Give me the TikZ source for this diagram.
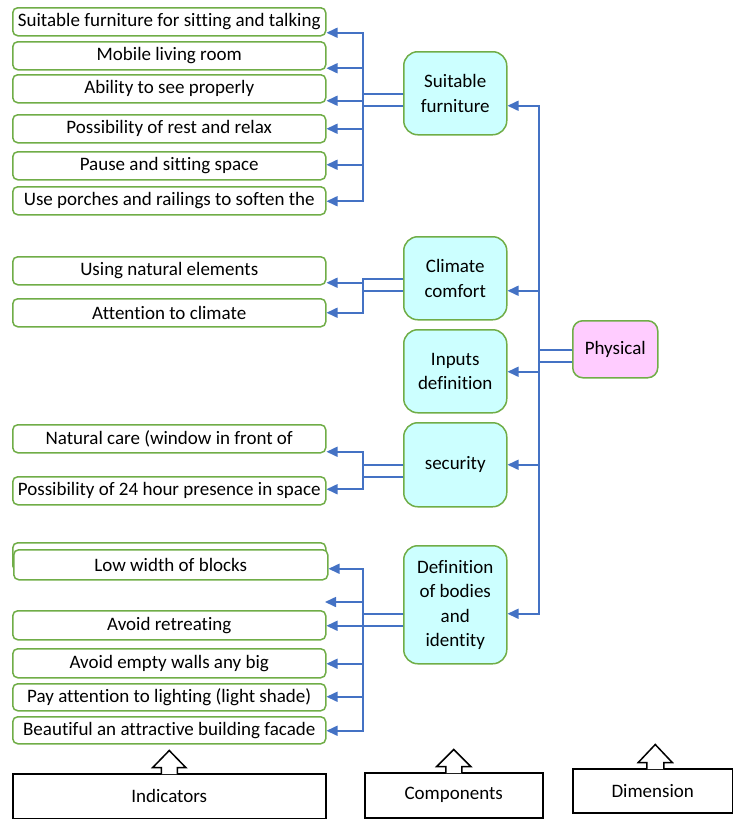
\documentclass[tikz,border=0pt]{standalone}
\usepackage{fontspec}
\setmainfont{Carlito}[Ligatures=NoCommon]
\usetikzlibrary{arrows.meta}
\definecolor{grn}{HTML}{70AD47}
\definecolor{blu}{HTML}{4472C4}
\definecolor{cyanf}{HTML}{CCFFFF}
\definecolor{pinkf}{HTML}{FFCCFF}
\newcommand\fs{\fontsize{19}{24.5}\selectfont}

\begin{document}
\begin{tikzpicture}[x=1pt,y=-1pt,
  ind/.style={draw=grn, line width=1.5pt, rounded corners=5pt, fill=white,
    minimum width=313pt, minimum height=28pt, anchor=north west,
    inner sep=0pt, font=\fs},
  comp/.style={draw=grn, line width=1.5pt, rounded corners=14pt, fill=cyanf,
    minimum width=103pt, anchor=north west, align=center, inner sep=0pt,
    font=\fs},
  dimbox/.style={comp, fill=pinkf, rounded corners=10pt, minimum width=85pt,
    minimum height=57pt},
  lblbox/.style={draw=black, line width=1.5pt, anchor=north west,
    inner sep=0pt, font=\fs},
  conn/.style={draw=blu, line width=1.6pt},
  arr/.style={conn, -{Triangle[length=11pt,width=10pt]}},
  blk/.style={draw=black, line width=1.5pt, line join=miter}
]
\useasboundingbox (0,0) rectangle (733,819);

% ---------- indicators ----------
\node[ind] (c1) at (12,7)   {Suitable furniture for sitting and talking};
\node[ind] (c2) at (12,41)  {Mobile living room};
\node[ind] (c3) at (12,74)  {Ability to see properly};
\node[ind] (c4) at (12,114) {Possibility of rest and relax};
\node[ind] (c5) at (12,151) {Pause and sitting space};
\node[ind] (c6) at (12,186) {Use porches and railings to soften the};

\node[ind] (c7) at (12,256) {Using natural elements};
\node[ind] (c8) at (12,298) {Attention to climate};

\node[ind] (c9)  at (12,424) {Natural care (window in front of};
\node[ind] (c10) at (12,476) {Possibility of 24 hour presence in space};

\node[ind] (ghost) at (12,542) {};
\node[ind, minimum height=30pt, minimum width=314pt] (c11) at (13,549) {Low width of blocks};
\node[ind, minimum height=29pt] (c12) at (12,610) {Avoid retreating};
\node[ind, minimum height=29pt] (c13) at (12,648) {Avoid empty walls any big};
\node[ind, minimum height=27pt] (c14) at (12,683) {Pay attention to lighting (light shade)};
\node[ind, minimum height=27pt] (c15) at (12,716) {Beautiful an attractive building facade};

% ---------- components ----------
\node[comp, minimum height=83pt]  (sf)  at (403,51)  {Suitable\\furniture};
\node[comp, minimum height=83pt]  (cc)  at (403,236) {Climate\\comfort};
\node[comp, minimum height=83pt]  (inp) at (403,329) {Inputs\\definition};
\node[comp, minimum height=84pt]  (sec) at (403,422) {security};
\node[comp, minimum height=118pt] (def) at (403,545) {Definition\\of bodies\\and\\identity};

% ---------- dimension ----------
\node[dimbox] (ph) at (572,320) {Physical};

% ---------- dimension -> components ----------
\draw[conn] ([yshift=-12.5pt]ph.west) -- ++(-33,0);
\draw[arr] ([yshift=-0.5pt]ph.west) -- ++(-33,0) |- ([yshift=-12.5pt]sf.east);
\draw[arr] ([yshift=-0.5pt]ph.west) -- ++(-33,0) |- ([yshift=-12.5pt]cc.east);
\draw[arr] ([yshift=-0.5pt]ph.west) -- ++(-33,0) |- ([yshift=-0.5pt]inp.east);
\draw[arr] ([yshift=-0.5pt]ph.west) -- ++(-33,0) |- (sec.east);
\draw[arr] ([yshift=-0.5pt]ph.west) -- ++(-33,0) |- ([yshift=-9pt]def.east);

% ---------- suitable furniture -> indicators ----------
\draw[conn] ([yshift=-12.5pt]sf.west) -- ++(-40,0);
\draw[arr] ([yshift=-0.5pt]sf.west) -- ++(-40,0) |- ([yshift=-11pt]c1.east);
\draw[arr] ([yshift=-0.5pt]sf.west) -- ++(-40,0) |- ([yshift=-12.5pt]c2.east);
\draw[arr] ([yshift=-0.5pt]sf.west) -- ++(-40,0) |- ([yshift=-12pt]c3.east);
\draw[arr] ([yshift=-0.5pt]sf.west) -- ++(-40,0) |- (c4.east);
\draw[arr] ([yshift=-0.5pt]sf.west) -- ++(-40,0) |- ([yshift=1pt]c5.east);
\draw[arr] ([yshift=-0.5pt]sf.west) -- ++(-40,0) |- ([yshift=-0.5pt]c6.east);

% ---------- climate comfort -> indicators ----------
\draw[conn] ([yshift=-12.5pt]cc.west) -- ++(-40,0);
\draw[arr] ([yshift=-0.5pt]cc.west) -- ++(-40,0) |- ([yshift=-12pt]c7.east);
\draw[arr] ([yshift=-0.5pt]cc.west) -- ++(-40,0) |- (c8.east);

% ---------- security -> indicators ----------
\draw[conn] ([yshift=-12pt]sec.west) -- ++(-40,0);
\draw[arr] (sec.west) -- ++(-40,0) |- ([yshift=-13pt]c9.east);
\draw[arr] (sec.west) -- ++(-40,0) |- ([yshift=1.5pt]c10.east);

% ---------- definition of bodies -> indicators ----------
\coordinate (loose) at (325,602);
\draw[conn] ([yshift=-21pt]def.west) -- ++(-40,0);
\draw[arr] ([yshift=-9pt]def.west) -- ++(-40,0) |- ([yshift=-4pt]c11.east);
\draw[arr] ([yshift=-9pt]def.west) -- ++(-40,0) |- (loose);
\draw[arr] ([yshift=-9pt]def.west) -- ++(-40,0) |- ([yshift=-0.5pt]c12.east);
\draw[arr] ([yshift=-9pt]def.west) -- ++(-40,0) |- ([yshift=-0.5pt]c13.east);
\draw[arr] ([yshift=-9pt]def.west) -- ++(-40,0) |- ([yshift=0.5pt]c14.east);
\draw[arr] ([yshift=-9pt]def.west) -- ++(-40,0) |- ([yshift=-0.5pt]c15.east);

% ---------- legend boxes with block arrows ----------
\node[lblbox, minimum width=313pt, minimum height=45pt] (ib) at (12,773)  {Indicators};
\node[lblbox, minimum width=178pt, minimum height=45pt] (cb) at (364,772) {Components};
\node[lblbox, minimum width=160pt, minimum height=44pt] (db) at (572,768) {Dimension};

% up-pointing block arrows sitting on the legend boxes
\path[fill=white] ([xshift=-8pt,yshift=-1pt]ib.north) -- ++(0,-8) -- ++(-8.5,0)
  -- ++(16.5,-17) -- ++(16.5,17) -- ++(-8.5,0) -- ++(0,8) -- cycle;
\draw[blk] ([xshift=-8pt,yshift=-0.75pt]ib.north) -- ++(0,-6.25) -- ++(-8.5,0)
  -- ++(16.5,-17) -- ++(16.5,17) -- ++(-8.5,0) -- ++(0,6.25);

\path[fill=white] ([xshift=-8pt,yshift=-1pt]cb.north) -- ++(0,-8) -- ++(-9,0)
  -- ++(17,-17) -- ++(17,17) -- ++(-9,0) -- ++(0,8) -- cycle;
\draw[blk] ([xshift=-8pt,yshift=-0.75pt]cb.north) -- ++(0,-6.25) -- ++(-9,0)
  -- ++(17,-17) -- ++(17,17) -- ++(-9,0) -- ++(0,6.25);

\path[fill=white] ([xshift=-6pt,yshift=-1pt]db.north) -- ++(0,-8) -- ++(-8.5,0)
  -- ++(17,-18) -- ++(17,18) -- ++(-8.5,0) -- ++(0,8) -- cycle;
\draw[blk] ([xshift=-6pt,yshift=-0.75pt]db.north) -- ++(0,-6.25) -- ++(-8.5,0)
  -- ++(17,-18) -- ++(17,18) -- ++(-8.5,0) -- ++(0,6.25);
\end{tikzpicture}
\end{document}
